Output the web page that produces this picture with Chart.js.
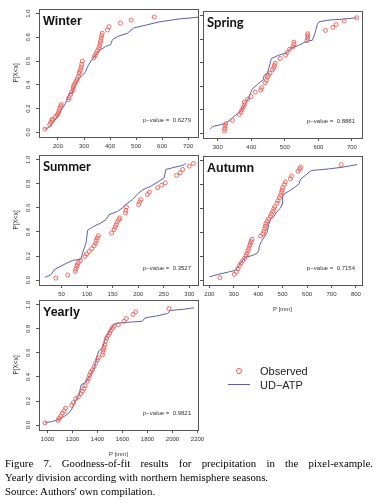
<!DOCTYPE html>
<html>
<head>
<meta charset="utf-8">
<script src="https://cdn.jsdelivr.net/npm/chart.js@4.4.0/dist/chart.umd.min.js"></script>
<style>
body { margin: 0; background: #fff; }
#page { position: relative; width: 379px; height: 503px; overflow: hidden; font-family: "Liberation Sans", Arial, sans-serif; }
#page canvas { position: absolute; }
.leg { position: absolute; font-size: 11px; line-height: 12px; color: #222; }
#caption { position: absolute; left: 5px; top: 456px; width: 368px; font-family: "Liberation Serif", "Times New Roman", serif; font-size: 10.8px; line-height: 14px; color: #000; }
#caption .l1 { text-align: justify; text-align-last: justify; }
</style>
</head>
<body>
<div id="page">
  <canvas id="winter"></canvas>
  <canvas id="spring"></canvas>
  <canvas id="summer"></canvas>
  <canvas id="autumn"></canvas>
  <canvas id="yearly"></canvas>

  <span class="leg" style="left:236px;top:368px;width:4px;height:4px;border:1.2px solid #ee5a50;border-radius:50%;"></span>
  <span class="leg" style="left:260px;top:365px;">Observed</span>
  <span class="leg" style="left:228px;top:384px;width:22px;height:0;border-top:1.6px solid #5a5fb0;"></span>
  <span class="leg" style="left:260px;top:379px;">UD&minus;ATP</span>

  <div id="caption">
    <div class="l1">Figure 7. Goodness-of-fit results for precipitation in the pixel-example.</div>
    <div>Yearly division according with northern hemisphere seasons.</div>
    <div>Source: Authors' own compilation.</div>
  </div>
</div>

<script>
// ---- datos ----
const yTicks = [0, 0.2, 0.4, 0.6, 0.8, 1.0];
const yTickLabels = ['0.0', '0.2', '0.4', '0.6', '0.8', '1.0'];

const winterTicks = [200, 300, 400, 500, 600, 700];
const winterObsX = [150,168,172,176,179,191,197,201,204,206,210,213,240,242,249,252,258,259,261,265,270,274,278,281,283,287,290,291,294,338,342,347,352,357,360,362,364,366,368,370,390,396,440,481,570];
const winterObsP = [0.027,0.064,0.083,0.100,0.110,0.132,0.146,0.160,0.180,0.200,0.220,0.234,0.275,0.292,0.320,0.340,0.358,0.380,0.394,0.413,0.430,0.449,0.471,0.496,0.512,0.532,0.551,0.573,0.600,0.628,0.647,0.669,0.688,0.711,0.730,0.752,0.771,0.793,0.815,0.835,0.862,0.890,0.920,0.945,0.972];
const winterFitX = [150,165,185,197,210,223,236,242,255,261,274,283,294,306,313,319,326,338,351,364,383,402,409,428,467,476,492,537,588,665,738];
const winterFitP = [0.027,0.04,0.09,0.132,0.18,0.22,0.28,0.32,0.33,0.38,0.43,0.46,0.48,0.51,0.55,0.573,0.6,0.633,0.669,0.696,0.723,0.738,0.78,0.806,0.835,0.853,0.88,0.903,0.93,0.955,0.97];
const winterP = '0.6279';

const springTicks = [300, 400, 500, 600, 700];
const springObsX = [320,321,322,324,344,364,369,372,376,379,379,389,399,412,428,431,441,445,448,451,456,463,467,469,471,486,502,507,514,524,527,527,566,568,568,568,621,643,653,677,714];
const springObsP = [0.022,0.041,0.063,0.083,0.11,0.16,0.179,0.2,0.221,0.243,0.265,0.29,0.312,0.349,0.368,0.387,0.429,0.45,0.478,0.492,0.512,0.54,0.556,0.576,0.595,0.636,0.664,0.686,0.714,0.733,0.755,0.774,0.788,0.81,0.83,0.846,0.874,0.901,0.924,0.953,0.982];
const springFitX = [277,285,301,324,344,364,379,393,402,419,436,438,448,453,460,482,507,517,541,566,582,590,597,602,632,672,714];
const springFitP = [0.035,0.058,0.068,0.085,0.132,0.179,0.229,0.307,0.373,0.417,0.456,0.492,0.512,0.56,0.636,0.664,0.686,0.722,0.747,0.783,0.79,0.852,0.926,0.948,0.962,0.97,0.982];
const springP = '0.8881';

const summerTicks = [50, 100, 150, 200, 250, 300];
const summerObsX = [39,62,77,78,80,81,83,87,96,99,104,109,114,117,118,120,122,148,153,155,157,159,162,164,175,176,177,201,203,205,218,222,238,246,253,275,282,287,300,308];
const summerObsP = [0.017,0.044,0.072,0.092,0.114,0.128,0.147,0.164,0.197,0.217,0.239,0.261,0.286,0.308,0.33,0.35,0.369,0.392,0.42,0.442,0.461,0.483,0.503,0.517,0.558,0.58,0.606,0.628,0.65,0.669,0.711,0.731,0.767,0.789,0.808,0.869,0.892,0.919,0.947,0.969];
const summerFitX = [18,29,36,45,59,72,88,91,98,101,111,127,137,143,160,169,176,189,199,208,225,241,251,254,267,287,293];
const summerFitP = [0.025,0.044,0.086,0.108,0.139,0.164,0.175,0.225,0.308,0.414,0.442,0.475,0.503,0.544,0.572,0.6,0.628,0.669,0.717,0.747,0.781,0.822,0.85,0.919,0.933,0.953,0.969];
const summerP = '0.3527';

const autumnTicks = [200, 300, 400, 500, 600, 700, 800];
const autumnObsX = [243,302,311,317,323,330,337,345,350,354,358,361,365,368,371,374,410,419,423,427,429,432,437,443,450,454,460,464,468,477,481,487,492,495,498,500,507,511,532,536,563,570,574,740];
const autumnObsP = [0.022,0.049,0.069,0.096,0.123,0.143,0.165,0.184,0.206,0.225,0.247,0.266,0.288,0.307,0.323,0.342,0.37,0.389,0.41,0.433,0.452,0.474,0.493,0.512,0.534,0.553,0.575,0.597,0.616,0.644,0.666,0.69,0.712,0.734,0.753,0.775,0.8,0.822,0.849,0.871,0.912,0.931,0.945,0.967];
const autumnFitX = [200,238,279,306,320,331,347,375,395,402,405,413,423,436,443,450,464,477,491,498,500,509,532,552,568,573,593,617,689,743,805];
const autumnFitP = [0.028,0.05,0.069,0.082,0.118,0.151,0.192,0.206,0.225,0.247,0.288,0.323,0.356,0.397,0.466,0.507,0.534,0.575,0.603,0.636,0.699,0.726,0.753,0.781,0.808,0.844,0.877,0.918,0.931,0.945,0.967];
const autumnP = '0.7154';

const yearlyTicks = [1000, 1200, 1400, 1600, 1800, 2000, 2200];
const yearlyObsX = [980,1084,1092,1105,1119,1132,1145,1193,1207,1225,1247,1265,1279,1292,1300,1319,1327,1337,1345,1359,1372,1385,1399,1407,1439,1444,1447,1452,1457,1465,1473,1484,1497,1505,1519,1532,1567,1612,1631,1684,1705,1972];
const yearlyObsP = [0.02,0.039,0.058,0.075,0.1,0.117,0.142,0.165,0.187,0.22,0.235,0.262,0.282,0.304,0.327,0.366,0.388,0.416,0.438,0.458,0.486,0.514,0.542,0.561,0.584,0.606,0.626,0.645,0.667,0.696,0.724,0.743,0.765,0.785,0.807,0.821,0.835,0.863,0.885,0.919,0.941,0.968];
const yearlyFitX = [980,1039,1092,1145,1172,1199,1225,1252,1265,1273,1305,1332,1359,1385,1399,1412,1439,1452,1465,1492,1513,1532,1585,1679,1759,1780,1865,1959,1985,2079,2172];
const yearlyFitP = [0.02,0.031,0.047,0.081,0.103,0.142,0.206,0.248,0.318,0.338,0.355,0.402,0.444,0.514,0.584,0.617,0.645,0.681,0.729,0.773,0.807,0.84,0.849,0.857,0.863,0.891,0.905,0.927,0.953,0.961,0.975];
const yearlyP = '0.9821';

// ---- estilos y posiciones ----
const obsColor = '#ee5a50';
const fitColor = '#5a5fb0';
const boxColor = '#555';
const sansFont = '"Liberation Sans", Arial, sans-serif';

// marco tipo R, titulo, p-value y etiquetas giradas del eje y
const rFrame = {
    id: 'rFrame',
    afterDraw(chart, args, opts) {
        const { ctx, chartArea: a, scales } = chart;
        ctx.save();
        ctx.strokeStyle = boxColor;
        ctx.lineWidth = 1;
        ctx.strokeRect(Math.round(a.left) + 0.5, Math.round(a.top) + 0.5, Math.round(a.right - a.left), Math.round(a.bottom - a.top));

        ctx.fillStyle = '#111';
        ctx.font = opts.titleFont;
        ctx.textAlign = 'left';
        ctx.textBaseline = 'alphabetic';
        ctx.fillText(opts.title, a.left + 4, a.top + 16);

        ctx.fillStyle = '#333';
        ctx.font = '6px ' + sansFont;
        ctx.textAlign = 'right';
        ctx.textBaseline = 'middle';
        ctx.fillText('p\u2212value =  ' + opts.pValue, a.right - 7, a.bottom - 17);

        if (opts.yLabels) {
            ctx.textAlign = 'center';
            yTicks.forEach((v, i) => {
                ctx.save();
                ctx.translate(a.left - 11, scales.y.getPixelForValue(v));
                ctx.rotate(-Math.PI / 2);
                ctx.fillText(yTickLabels[i], 0, 0);
                ctx.restore();
            });
            ctx.save();
            ctx.font = '6.5px ' + sansFont;
            ctx.translate(16, (a.top + a.bottom) / 2);
            ctx.rotate(-Math.PI / 2);
            ctx.fillText('P[X<x]', 0, 0);
            ctx.restore();
        }
        if (opts.xTitle) {
            ctx.textAlign = 'center';
            ctx.font = '6px ' + sansFont;
            ctx.fillText('P [mm]', (a.left + a.right) / 2, a.bottom + 24);
        }
        ctx.restore();
    }
};

function toPoints(xs, ps) {
    return xs.map((x, i) => ({ x: x, y: ps[i] }));
}

function crearPanel(id, p) {
    const padL = p.leftCol ? p.boxLeft : 5;
    const padT = 4, padR = 12, padB = 30;
    const canvas = document.getElementById(id);
    canvas.width = padL + (p.boxRight - p.boxLeft) + padR;
    canvas.height = padT + (p.boxBottom - p.boxTop) + padB;
    canvas.style.left = (p.boxLeft - padL) + 'px';
    canvas.style.top = (p.boxTop - padT) + 'px';

    const marcas = { display: true, drawOnChartArea: false, drawTicks: true, tickLength: 3, color: boxColor };

    return new Chart(canvas.getContext('2d'), {
        type: 'scatter',
        data: {
            datasets: [
                {
                    label: 'Observed',
                    data: toPoints(p.obsX, p.obsP),
                    pointStyle: 'circle',
                    pointRadius: 2,
                    pointBorderWidth: 0.9,
                    borderColor: obsColor,
                    backgroundColor: 'rgba(0,0,0,0)'
                },
                {
                    label: 'UD-ATP',
                    data: toPoints(p.fitX, p.fitP),
                    showLine: true,
                    pointRadius: 0,
                    borderColor: fitColor,
                    borderWidth: 1,
                    tension: 0
                }
            ]
        },
        options: {
            responsive: false,
            animation: false,
            layout: { padding: { left: 0, top: padT, right: padR, bottom: 0 } },
            plugins: {
                legend: { display: false },
                tooltip: { enabled: false },
                rFrame: { title: p.title, titleFont: p.titleFont, pValue: p.pValue, yLabels: p.leftCol, xTitle: p.xTitle }
            },
            scales: {
                x: {
                    type: 'linear',
                    min: p.xMin,
                    max: p.xMax,
                    afterFit: s => { s.height = padB; },
                    afterBuildTicks: s => { s.ticks = p.ticks.map(v => ({ value: v })); },
                    grid: marcas,
                    border: { display: false },
                    ticks: {
                        autoSkip: false, maxRotation: 0, minRotation: 0, padding: 3,
                        color: '#333', font: { size: 6, family: sansFont },
                        callback: v => String(v)
                    }
                },
                y: {
                    type: 'linear',
                    min: -0.04,
                    max: 1.04,
                    afterFit: s => { s.width = padL; },
                    afterBuildTicks: s => { s.ticks = yTicks.map(v => ({ value: v })); },
                    grid: marcas,
                    border: { display: false },
                    ticks: { display: false }
                }
            }
        },
        plugins: [rFrame]
    });
}

const arialBold = 'bold 12.5px ' + sansFont;
const latoBold = 'bold 13px Lato, "Open Sans", sans-serif';

crearPanel('winter', { title: 'Winter', titleFont: arialBold, pValue: winterP, leftCol: true, xTitle: false,
    boxLeft: 39, boxRight: 198, boxTop: 8, boxBottom: 137, xMin: 127, xMax: 738,
    ticks: winterTicks, obsX: winterObsX, obsP: winterObsP, fitX: winterFitX, fitP: winterFitP });

crearPanel('spring', { title: 'Spring', titleFont: latoBold, pValue: springP, leftCol: false, xTitle: false,
    boxLeft: 203, boxRight: 362, boxTop: 10, boxBottom: 138, xMin: 256, xMax: 730,
    ticks: springTicks, obsX: springObsX, obsP: springObsP, fitX: springFitX, fitP: springFitP });

crearPanel('summer', { title: 'Summer', titleFont: latoBold, pValue: summerP, leftCol: true, xTitle: false,
    boxLeft: 39, boxRight: 198, boxTop: 154, boxBottom: 285, xMin: 6, xMax: 317,
    ticks: summerTicks, obsX: summerObsX, obsP: summerObsP, fitX: summerFitX, fitP: summerFitP });

crearPanel('autumn', { title: 'Autumn', titleFont: arialBold, pValue: autumnP, leftCol: false, xTitle: true,
    boxLeft: 203, boxRight: 362, boxTop: 155, boxBottom: 285, xMin: 174, xMax: 825,
    ticks: autumnTicks, obsX: autumnObsX, obsP: autumnObsP, fitX: autumnFitX, fitP: autumnFitP });

crearPanel('yearly', { title: 'Yearly', titleFont: arialBold, pValue: yearlyP, leftCol: true, xTitle: true,
    boxLeft: 39, boxRight: 198, boxTop: 299, boxBottom: 430, xMin: 932, xMax: 2204,
    ticks: yearlyTicks, obsX: yearlyObsX, obsP: yearlyObsP, fitX: yearlyFitX, fitP: yearlyFitP });
</script>
</body>
</html>
